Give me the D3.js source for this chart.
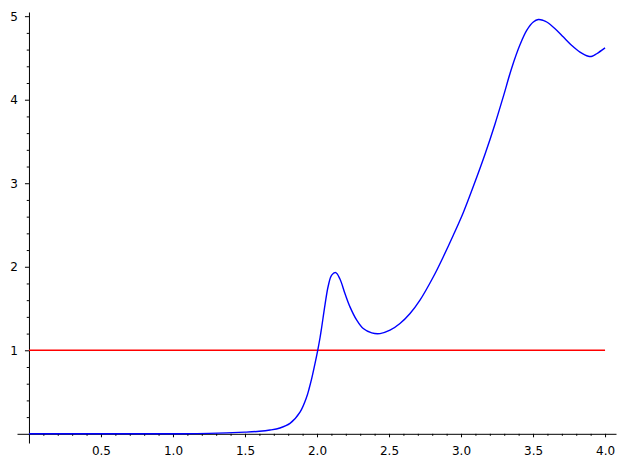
<!DOCTYPE html>
<html>
<head>
<meta charset="utf-8">
<script src="https://cdn.jsdelivr.net/npm/d3@7/dist/d3.min.js"></script>
<style>
  html, body { margin: 0; padding: 0; background: #fff; }
  svg { display: block; }
  .tick text { font-family: "DejaVu Sans", sans-serif; font-size: 12px; fill: #000; }
</style>
</head>
<body>
<svg id="chart" width="626" height="468"></svg>
<script>
// ---- data ----
const curveX = [0, 0.5, 1.0, 1.25, 1.5, 1.6, 1.674, 1.743, 1.8125, 1.882, 1.928, 1.945, 1.963, 1.986, 2.005, 2.021, 2.032, 2.056, 2.078, 2.102, 2.13, 2.16, 2.194, 2.229, 2.276, 2.321, 2.38, 2.4375, 2.507, 2.576, 2.646, 2.715, 2.808, 2.877, 2.947, 3.016, 3.085, 3.167, 3.236, 3.294, 3.352, 3.41, 3.456, 3.502, 3.537, 3.57, 3.595, 3.653, 3.711, 3.769, 3.826, 3.884, 3.91, 3.942, 4.0];
const curveY = [0, 0, 0.001, 0.005, 0.02, 0.03, 0.045, 0.07, 0.125, 0.26, 0.44, 0.54, 0.66, 0.84, 1.0, 1.15, 1.27, 1.55, 1.77, 1.90, 1.93, 1.85, 1.68, 1.52, 1.36, 1.26, 1.208, 1.20, 1.24, 1.32, 1.44, 1.60, 1.88, 2.12, 2.38, 2.65, 2.96, 3.35, 3.71, 4.04, 4.38, 4.66, 4.83, 4.93, 4.96, 4.95, 4.93, 4.85, 4.75, 4.65, 4.57, 4.52, 4.52, 4.55, 4.62];
const refLineX = [0, 4];
const refLineY = [1, 1];
const xMajorTicks = [0.5, 1.0, 1.5, 2.0, 2.5, 3.0, 3.5, 4.0];
const xMinorTicks = [0.1,0.2,0.3,0.4,0.6,0.7,0.8,0.9,1.1,1.2,1.3,1.4,1.6,1.7,1.8,1.9,2.1,2.2,2.3,2.4,2.6,2.7,2.8,2.9,3.1,3.2,3.3,3.4,3.6,3.7,3.8,3.9];
const yMajorTicks = [1, 2, 3, 4, 5];
const yMinorTicks = [0.2,0.4,0.6,0.8,1.2,1.4,1.6,1.8,2.2,2.4,2.6,2.8,3.2,3.4,3.6,3.8,4.2,4.4,4.6,4.8];
const xExtent = [-0.083, 4.076];
const yExtent = [-0.11, 5.05];

// ---- chart ----
const svg = d3.select("#chart");
const x = d3.scaleLinear().domain(xExtent).range([17, 616]);
const y = d3.scaleLinear().domain(yExtent).range([443, 12]);

// axes
svg.append("g").attr("transform", `translate(0,${y(0)})`)
  .call(d3.axisBottom(x).tickValues(xMajorTicks).tickFormat(d3.format(".1f"))
    .tickSize(3.5).tickSizeOuter(0).tickPadding(9));
svg.append("g").attr("transform", `translate(0,${y(0)})`)
  .call(d3.axisBottom(x).tickValues(xMinorTicks).tickFormat("").tickSize(2).tickSizeOuter(0))
  .select(".domain").remove();

svg.append("g").attr("transform", `translate(${x(0)},0)`)
  .call(d3.axisLeft(y).tickValues(yMajorTicks).tickFormat(d3.format("d"))
    .tickSize(4).tickSizeOuter(0).tickPadding(7));
svg.append("g").attr("transform", `translate(${x(0)},0)`)
  .call(d3.axisLeft(y).tickValues(yMinorTicks).tickFormat("").tickSize(2.2).tickSizeOuter(0))
  .select(".domain").remove();

svg.selectAll(".domain").attr("stroke", "#000").attr("stroke-width", 1);
svg.selectAll(".tick line").attr("stroke", "#000").attr("stroke-width", 1);

// lines
const line = d3.line().x(d => x(d[0])).y(d => y(d[1]));
svg.append("path")
  .datum(refLineX.map((v, i) => [v, refLineY[i]]))
  .attr("fill", "none").attr("stroke", "#ff0000").attr("stroke-width", 1.4)
  .attr("d", line);
svg.append("path")
  .datum(curveX.map((v, i) => [v, curveY[i]]))
  .attr("fill", "none").attr("stroke", "#0000ff").attr("stroke-width", 1.4)
  .attr("d", line.curve(d3.curveCatmullRom.alpha(0.5)));
</script>
</body>
</html>
